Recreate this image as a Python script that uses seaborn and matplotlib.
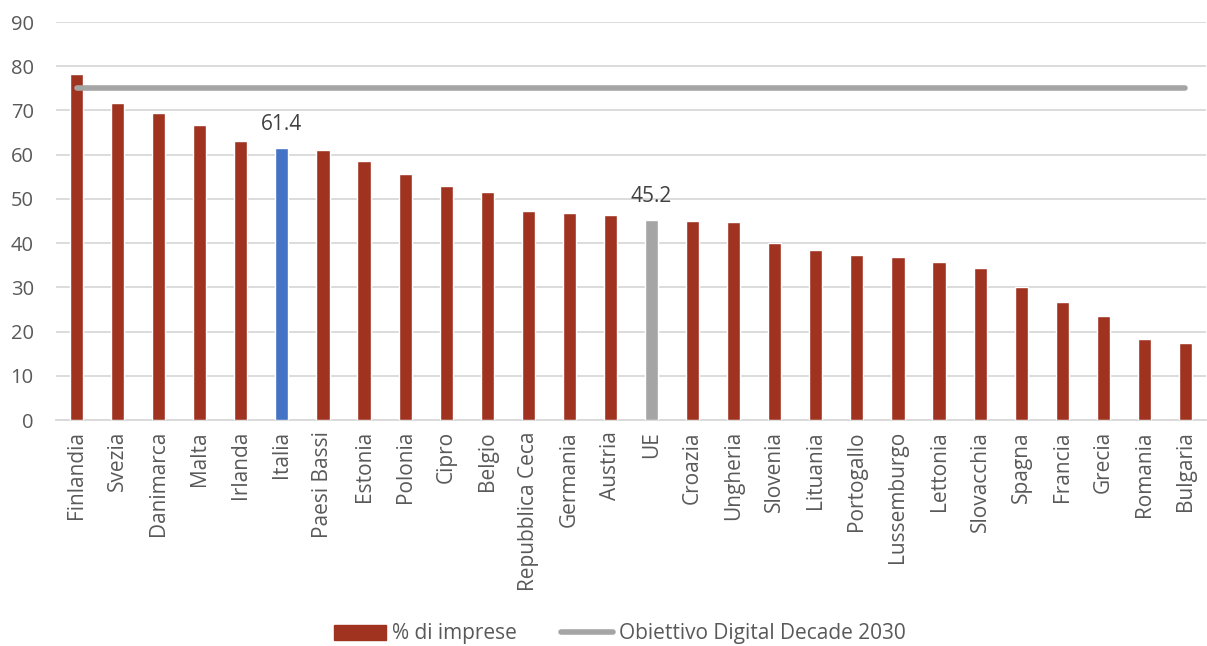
import matplotlib
matplotlib.use("Agg")
import matplotlib.pyplot as plt
import seaborn as sns
import pandas as pd
from matplotlib.patches import Patch
from matplotlib.lines import Line2D

countries = ["Finlandia", "Svezia", "Danimarca", "Malta", "Irlanda", "Italia", "Paesi Bassi",
             "Estonia", "Polonia", "Cipro", "Belgio", "Repubblica Ceca", "Germania", "Austria",
             "UE", "Croazia", "Ungheria", "Slovenia", "Lituania", "Portogallo", "Lussemburgo",
             "Lettonia", "Slovacchia", "Spagna", "Francia", "Grecia", "Romania", "Bulgaria"]
values = [78.3, 71.6, 69.5, 66.6, 63.0, 61.4, 61.1, 58.5, 55.6, 52.9, 51.6, 47.2, 46.9, 46.4,
          45.2, 45.0, 44.8, 40.1, 38.5, 37.4, 36.9, 35.8, 34.4, 30.0, 26.7, 23.5, 18.4, 17.4]
target = [75] * len(countries)
annotated = {"Italia": "61.4", "UE": "45.2"}

RED = "#A03220"
BLUE = "#4472C4"
GREY = "#A5A5A5"
TXT = "#595959"
colors = [BLUE if c == "Italia" else GREY if c == "UE" else RED for c in countries]

df = pd.DataFrame({"paese": countries, "valore": values})

sns.set_theme(style="white")
plt.rcParams["font.family"] = ["Open Sans", "DejaVu Sans"]

fig = plt.figure(figsize=(12.07, 6.46), dpi=100)
ax = fig.add_axes([56 / 1207, 1 - 420 / 646, 1150 / 1207, 398 / 646])

sns.barplot(data=df, x="paese", y="valore", hue="paese", palette=colors, legend=False,
            width=0.32, saturation=1, ax=ax, zorder=3)
ax.plot(countries, target, color=GREY, lw=4, solid_capstyle="round", zorder=4)

for i, c in enumerate(countries):
    if c in annotated:
        ax.text(i, values[i] + 3.0, annotated[c], ha="center", va="bottom",
                fontsize=15, color="#404040", zorder=5)

ax.set_ylim(0, 90)
ax.set_xlim(-0.5, len(countries) - 0.5)
ax.set_yticks(range(0, 91, 10))
ax.yaxis.grid(True, color="#D9D9D9", lw=1.3, zorder=0)
ax.set_axisbelow(True)
for s in ["top", "right", "left"]:
    ax.spines[s].set_visible(False)
ax.spines["bottom"].set_color("#D9D9D9")
ax.spines["bottom"].set_linewidth(1.3)
ax.set_xlabel("")
ax.set_ylabel("")
ax.tick_params(axis="x", rotation=90, labelsize=15, colors=TXT, length=0, pad=8)
ax.tick_params(axis="y", labelsize=14.5, colors=TXT, length=0, pad=16)

handles = [Patch(facecolor=RED, edgecolor=RED),
           Line2D([0], [0], color=GREY, lw=4, solid_capstyle="round")]
fig.legend(handles, ["% di imprese", "Obiettivo Digital Decade 2030"],
           loc="center", bbox_to_anchor=(620 / 1207, 1 - 634 / 646), ncol=2, frameon=False,
           fontsize=15, handlelength=2.5, handleheight=0.7, columnspacing=2.1,
           handletextpad=0.3, labelcolor=TXT)

fig.savefig("out.png", dpi=100)
